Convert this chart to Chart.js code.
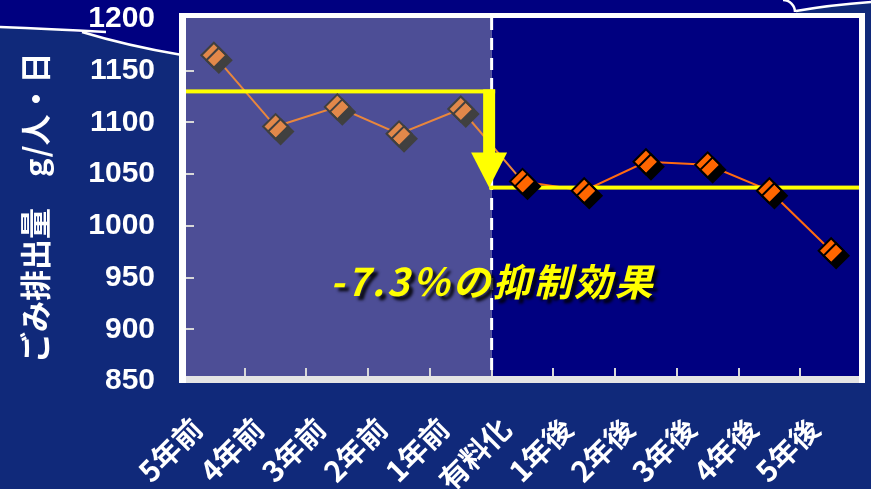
<!DOCTYPE html>
<html lang="ja">
<head>
<meta charset="utf-8">
<title>ごみ排出量の推移</title>
<script src="https://cdn.jsdelivr.net/npm/chart.js@4.4.1/dist/chart.umd.min.js"></script>
<style>
  html, body { margin: 0; padding: 0; background: #10297a; }
  #wrap { width: 871px; height: 489px; position: relative; }
</style>
</head>
<body>
<div id="wrap"><canvas id="chart"></canvas></div>
<script>
// --- data ---
const periods = ['5年前', '4年前', '3年前', '2年前', '1年前', '有料化', '1年後', '2年後', '3年後', '4年後', '5年後'];
const wastePerDay = [1165, 1096, 1115, 1089, 1113, 1043, 1034, 1062, 1059, 1034, 976];
const beforeIdx = [0, 1, 2, 3, 4];             // points before charging
const yTicks = [850, 900, 950, 1000, 1050, 1100, 1150, 1200];
const averageBefore = 1130;
const averageAfter = 1037;
const effectLabel = '-7.3％の抑制効果';
const effectLabelValue = 946;

const beforePoints = wastePerDay.map((v, i) => beforeIdx.includes(i) ? v : null);
const afterPoints = wastePerDay.map((v, i) => beforeIdx.includes(i) ? null : v);

const BG = '#10297a';
const NAVY = '#000080';
const SHADE = '#4d4e96';

function boundaryX(chart) {
    const x = chart.scales.x;
    return (x.getPixelForValue(4) + x.getPixelForValue(5)) / 2;
}

const slideDecor = {
    id: 'slideDecor',
    beforeDraw(chart) {
        const ctx = chart.ctx;
        ctx.save();
        ctx.fillStyle = BG;
        ctx.fillRect(0, 0, chart.width, chart.height);

        // dark band at the top of the slide
        ctx.fillStyle = NAVY;
        ctx.beginPath();
        ctx.moveTo(0, 0);
        ctx.lineTo(871, 0);
        ctx.lineTo(871, 2);
        ctx.quadraticCurveTo(830, 5, 796, 11);
        ctx.lineTo(796, 60);
        ctx.lineTo(180, 60);
        ctx.lineTo(180, 55);
        ctx.quadraticCurveTo(128, 45, 84, 33);
        ctx.quadraticCurveTo(40, 27, 0, 27);
        ctx.closePath();
        ctx.fill();

        ctx.strokeStyle = '#ffffff';
        ctx.lineWidth = 2.5;
        ctx.beginPath();
        ctx.moveTo(0, 27);
        ctx.quadraticCurveTo(50, 29, 106, 32);
        ctx.stroke();
        ctx.beginPath();
        ctx.moveTo(82, 32);
        ctx.quadraticCurveTo(128, 46, 182, 55);
        ctx.stroke();
        ctx.beginPath();
        ctx.moveTo(871, 2);
        ctx.quadraticCurveTo(830, 5, 796, 11);
        ctx.stroke();
        ctx.beginPath();
        ctx.arc(783, 12, 12, -Math.PI / 2, 0);
        ctx.stroke();
        ctx.restore();
    },
    beforeDatasetsDraw(chart) {
        const ctx = chart.ctx;
        const ca = chart.chartArea;
        const bx = boundaryX(chart);
        const inL = ca.left + 3, inT = ca.top - 1, inR = ca.right - 3, inB = ca.bottom - 5;
        ctx.save();
        // white frame
        ctx.fillStyle = '#ffffff';
        ctx.fillRect(ca.left - 4, ca.top - 6, ca.right - ca.left + 7, ca.bottom - ca.top + 8);
        ctx.fillStyle = '#e4e4e4';
        ctx.fillRect(ca.left + 3, inB, ca.right - ca.left - 6, 7);
        // before / after panels
        ctx.fillStyle = SHADE;
        ctx.fillRect(inL, inT, bx - inL, inB - inT);
        ctx.fillStyle = NAVY;
        ctx.fillRect(bx, inT, inR - bx, inB - inT);

        // inner tick marks
        ctx.strokeStyle = '#d8d8d8';
        ctx.lineWidth = 2;
        const ys = chart.scales.y;
        yTicks.slice(1, -1).forEach(v => {
            const y = Math.round(ys.getPixelForValue(v));
            ctx.beginPath();
            ctx.moveTo(inL, y);
            ctx.lineTo(inL + 8, y);
            ctx.stroke();
        });
        const xs = chart.scales.x;
        for (let i = 0; i < periods.length - 1; i++) {
            const x = Math.round((xs.getPixelForValue(i) + xs.getPixelForValue(i + 1)) / 2);
            ctx.beginPath();
            ctx.moveTo(x, inB);
            ctx.lineTo(x, inB - 8);
            ctx.stroke();
        }

        // dashed divider at the start of charging
        ctx.strokeStyle = '#ffffff';
        ctx.lineWidth = 3;
        ctx.setLineDash([12, 8]);
        ctx.beginPath();
        ctx.moveTo(bx, inT);
        ctx.lineTo(bx, inB);
        ctx.stroke();
        ctx.restore();
    },
    beforeDatasetDraw(chart, args) {
        if (args.index === 0) return;
        const ctx = chart.ctx;
        ctx.save();
        ctx.shadowColor = args.index === 1 ? '#404040' : '#000000';
        ctx.shadowOffsetX = 5;
        ctx.shadowOffsetY = 5;
        ctx.shadowBlur = 0;
    },
    afterDatasetDraw(chart, args) {
        const ctx = chart.ctx;
        if (args.index !== 0) {
            ctx.restore();
            return;
        }
        // average lines and the arrow, drawn above the series line
        const ca = chart.chartArea;
        const ys = chart.scales.y;
        const bx = boundaryX(chart);
        const y1 = ys.getPixelForValue(averageBefore);
        const y2 = ys.getPixelForValue(averageAfter);
        const ax = bx - 2.5;
        ctx.save();
        ctx.fillStyle = '#ffff00';
        ctx.fillRect(ca.left + 3, y1 - 2, ax + 6 - (ca.left + 3), 4);
        ctx.fillRect(ax - 6, y1 - 2, 12, (y2 - 35) - (y1 - 2) + 1);
        ctx.beginPath();
        ctx.moveTo(ax - 18, y2 - 35);
        ctx.lineTo(ax + 18, y2 - 35);
        ctx.lineTo(ax, y2);
        ctx.closePath();
        ctx.fill();
        ctx.fillRect(ax, y2 - 2, ca.right - 3 - ax, 4);
        ctx.restore();
    },
    afterDatasetsDraw(chart) {
        const ctx = chart.ctx;
        const ys = chart.scales.y;
        const x = boundaryX(chart) + 1;
        const y = ys.getPixelForValue(effectLabelValue);
        ctx.save();
        ctx.font = 'italic bold 38px "Noto Sans CJK JP", sans-serif';
        const w = ctx.measureText(effectLabel).width;
        ctx.letterSpacing = ((325 - w) / effectLabel.length).toFixed(1) + 'px';
        ctx.textAlign = 'center';
        ctx.textBaseline = 'middle';
        ctx.shadowColor = 'rgba(0,0,0,0.85)';
        ctx.shadowOffsetX = 4;
        ctx.shadowOffsetY = 4;
        ctx.shadowBlur = 3;
        ctx.fillStyle = '#ffff00';
        ctx.fillText(effectLabel, x, y);
        ctx.restore();
    }
};

new Chart(document.getElementById('chart'), {
    type: 'line',
    data: {
        labels: periods,
        datasets: [
            {
                data: wastePerDay,
                order: 2,
                borderWidth: 2,
                pointRadius: 0,
                borderColor: '#e8863c',
                segment: { borderColor: c => c.p0DataIndex < 5 ? '#e8863c' : '#ff6a10' },
                tension: 0
            },
            {
                data: beforePoints,
                order: 1,
                showLine: false,
                pointStyle: 'rectRot',
                pointRadius: 12.5,
                pointBackgroundColor: '#e2884a',
                pointBorderColor: '#404040',
                pointBorderWidth: 2
            },
            {
                data: afterPoints,
                order: 0,
                showLine: false,
                pointStyle: 'rectRot',
                pointRadius: 12.5,
                pointBackgroundColor: '#ff6600',
                pointBorderColor: '#000000',
                pointBorderWidth: 2
            }
        ]
    },
    options: {
        responsive: true,
        maintainAspectRatio: false,
        animation: false,
        clip: false,
        layout: { autoPadding: false, padding: { top: 19, right: 9, left: 0, bottom: 0 } },
        plugins: { legend: { display: false }, tooltip: { enabled: false } },
        scales: {
            x: {
                type: 'category',
                offset: true,
                grid: { display: false, drawTicks: false },
                border: { display: false },
                ticks: {
                    autoSkip: false,
                    minRotation: 45,
                    maxRotation: 45,
                    padding: 30,
                    labelOffset: -17,
                    color: '#ffffff',
                    font: { family: '"Noto Sans CJK JP", sans-serif', size: 29, weight: 'bold' }
                },
                afterFit(scale) {
                    scale.height = 108;
                    scale.paddingLeft = 0;
                    scale.paddingRight = 0;
                }
            },
            y: {
                min: 850,
                max: 1200,
                grid: { display: false, drawTicks: false },
                border: { display: false },
                afterBuildTicks(scale) { scale.ticks = yTicks.map(v => ({ value: v })); },
                ticks: {
                    padding: 28,
                    color: '#ffffff',
                    callback: v => String(v),
                    font: { family: '"Liberation Sans", Arial, sans-serif', size: 30, weight: 'bold' }
                },
                title: {
                    display: true,
                    text: 'ごみ排出量　g/人・日\u2002',
                    color: '#ffffff',
                    padding: { top: 17, bottom: 0 },
                    font: { family: '"Noto Sans CJK JP", sans-serif', size: 31, weight: 'bold', lineHeight: 1.2 }
                },
                afterFit(scale) {
                    scale.width = 183;
                    scale.paddingTop = 0;
                    scale.paddingBottom = 0;
                }
            }
        }
    },
    plugins: [slideDecor]
});
</script>
</body>
</html>
